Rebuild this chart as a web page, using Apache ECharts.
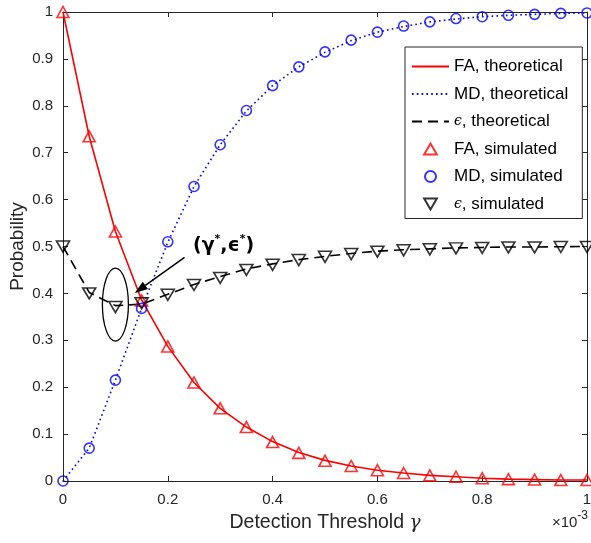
<!DOCTYPE html>
<html><head><meta charset="utf-8">
<script src="https://cdn.jsdelivr.net/npm/echarts@6/dist/echarts.min.js"></script>
<style>html,body{margin:0;padding:0;background:#fff}#c{width:591px;height:543px}</style>
</head><body><div id="c"></div>
<script>
// Detection threshold gamma (in units of 1e-3)
const thresholds = [0, 0.05, 0.1, 0.15, 0.2, 0.25, 0.3, 0.35, 0.4, 0.45, 0.5, 0.55, 0.6, 0.65, 0.7, 0.75, 0.8, 0.85, 0.9, 0.95, 1.0];
const faTheory  = [1.0, 0.735, 0.532, 0.386, 0.287, 0.210, 0.155, 0.115, 0.084, 0.061, 0.044, 0.032, 0.023, 0.017, 0.012, 0.009, 0.006, 0.004, 0.003, 0.002, 0.002];
const mdTheory  = [0.0, 0.070, 0.215, 0.368, 0.509, 0.628, 0.717, 0.789, 0.843, 0.883, 0.914, 0.939, 0.957, 0.969, 0.979, 0.985, 0.990, 0.993, 0.995, 0.997, 0.998];
const epsTheory = [0.5, 0.402, 0.374, 0.377, 0.398, 0.419, 0.436, 0.452, 0.463, 0.472, 0.479, 0.485, 0.490, 0.493, 0.495, 0.497, 0.498, 0.499, 0.499, 0.4995, 0.5];
const faSim  = [1.0, 0.735, 0.532, 0.385, 0.287, 0.210, 0.155, 0.115, 0.083, 0.060, 0.043, 0.032, 0.023, 0.017, 0.012, 0.009, 0.006, 0.004, 0.003, 0.002, 0.002];
const mdSim  = [0.0, 0.070, 0.215, 0.368, 0.510, 0.628, 0.717, 0.790, 0.843, 0.883, 0.915, 0.940, 0.957, 0.970, 0.979, 0.986, 0.990, 0.993, 0.995, 0.997, 0.998];
const epsSim = [0.5, 0.400, 0.371, 0.379, 0.397, 0.418, 0.433, 0.450, 0.461, 0.471, 0.478, 0.484, 0.489, 0.492, 0.494, 0.496, 0.497, 0.498, 0.498, 0.499, 0.499];
const seriesNames = ['FA, theoretical', 'MD, theoretical', 'ϵ, theoretical', 'FA, simulated', 'MD, simulated', 'ϵ, simulated'];
const xTickValues = [0, 0.2, 0.4, 0.6, 0.8, 1];
const yTickValues = [0, 0.1, 0.2, 0.3, 0.4, 0.5, 0.6, 0.7, 0.8, 0.9, 1];
const optimum = {x: 0.1, y: 0.374};

const FONT = "'Liberation Sans', Arial, Helvetica, sans-serif";
const SERIF = "'DejaVu Serif', 'Liberation Serif', serif";
const AX = '#262626';
const pairs = ys => thresholds.map((x, i) => [x, ys[i]]);
const upTri = 'path://M5,0L10,8.66L0,8.66Z';
const downTri = 'path://M0,0L10,0L5,8.66Z';

const chart = echarts.init(document.getElementById('c'), null, {renderer: 'canvas'});

const axisCommon = {
  min: 0, max: 1, interval: 0.1,
  nameMoveOverlap: false,
  axisLine: {show: true, onZero: false, lineStyle: {color: AX, width: 1}},
  axisTick: {show: true, inside: true, length: 5, lineStyle: {color: AX}},
  splitLine: {show: false},
};

const option = {
  animation: false,
  backgroundColor: '#fff',
  grid: {left: 63, top: 12, width: 524, height: 469, containLabel: false, outerBoundsMode: 'none'},
  xAxis: [
    Object.assign({}, axisCommon, {
      type: 'value', position: 'bottom', interval: 0.2,
      axisLabel: {color: AX, fontFamily: FONT, fontSize: 15, margin: 11,
        formatter: v => xTickValues.some(t => Math.abs(t - v) < 1e-9) ? String(+v.toFixed(1)) : ''},
      name: '{a|Detection Threshold }{g|γ}', nameLocation: 'middle', nameGap: 32,
      nameTextStyle: {rich: {
        a: {fontFamily: FONT, fontSize: 19.5, color: AX},
        g: {fontFamily: SERIF, fontStyle: 'italic', fontSize: 18.5, color: AX}
      }}
    }),
    Object.assign({}, axisCommon, {
      type: 'value', position: 'top', interval: 0.2, axisLabel: {show: false}
    })
  ],
  yAxis: [
    Object.assign({}, axisCommon, {
      type: 'value', position: 'left',
      axisLabel: {color: AX, fontFamily: FONT, fontSize: 15, margin: 10,
        formatter: v => yTickValues.some(t => Math.abs(t - v) < 1e-9) ? String(+v.toFixed(1)) : ''},
      name: 'Probability', nameLocation: 'middle', nameGap: 36, nameRotate: 90,
      nameTextStyle: {fontFamily: FONT, fontSize: 19, color: AX}
    }),
    Object.assign({}, axisCommon, {
      type: 'value', position: 'right', axisLabel: {show: false}
    })
  ],
  legend: {
    orient: 'vertical', left: 405, top: 47,
    padding: [11, 14, 6, 6],
    itemWidth: 37, itemHeight: 11, itemGap: 10.5,
    backgroundColor: '#fff', borderColor: AX, borderWidth: 1,
    symbolKeepAspect: true,
    data: seriesNames.map((n, i) => i < 3 ? {name: n, itemStyle: {opacity: 0}} : {name: n}),
    formatter: n => n.charAt(0) === 'ϵ' ? '{e|ϵ}{n|' + n.slice(1) + '}' : '{n|' + n + '}',
    textStyle: {rich: {
      n: {fontFamily: FONT, fontSize: 17, lineHeight: 14, color: '#000'},
      e: {fontFamily: SERIF, fontStyle: 'italic', fontSize: 14, lineHeight: 14, color: '#000'}
    }}
  },
  series: [
    {name: seriesNames[0], type: 'line', data: pairs(faTheory), symbol: 'none', z: 3,
     lineStyle: {color: '#ff0000', width: 1.6}, itemStyle: {color: '#ff0000'}},
    {name: seriesNames[1], type: 'line', data: pairs(mdTheory), symbol: 'none', z: 3,
     lineStyle: {color: '#0000ff', width: 1.6, type: [1.6, 3.2]}, itemStyle: {color: '#0000ff'}},
    {name: seriesNames[2], type: 'line', data: pairs(epsTheory), symbol: 'none', z: 3,
     lineStyle: {color: '#000', width: 1.6, type: [10, 6]}, itemStyle: {color: '#000'}},
    {name: seriesNames[3], type: 'scatter', data: pairs(faSim), symbol: upTri, symbolSize: [12, 11], z: 4,
     itemStyle: {color: 'rgba(0,0,0,0)', borderColor: '#ff0000', borderWidth: 1.6}},
    {name: seriesNames[4], type: 'scatter', data: pairs(mdSim), symbol: 'circle', symbolSize: 10, z: 4,
     itemStyle: {color: 'rgba(0,0,0,0)', borderColor: '#0000ff', borderWidth: 1.6}},
    {name: seriesNames[5], type: 'scatter', data: pairs(epsSim), symbol: downTri, symbolSize: [13, 11], z: 4,
     itemStyle: {color: 'rgba(0,0,0,0)', borderColor: '#000', borderWidth: 1.6}}
  ]
};
chart.setOption(option);

// annotation: ellipse around optimum, arrow and label
const c = chart.convertToPixel({gridIndex: 0}, [optimum.x, optimum.y]);
const tail = chart.convertToPixel({gridIndex: 0}, [0.232, 0.477]);
const head = chart.convertToPixel({gridIndex: 0}, [0.137, 0.401]);
const lbl = chart.convertToPixel({gridIndex: 0}, [0.248, 0.500]);
const dx = head[0] - tail[0], dy = head[1] - tail[1];
const L = Math.hypot(dx, dy), ux = dx / L, uy = dy / L;
const hl = 13, hw = 4.5;
const bx = head[0] - ux * hl, by = head[1] - uy * hl;
chart.setOption({
  graphic: [
    {type: 'ellipse', shape: {cx: c[0], cy: c[1] - 1, rx: 13, ry: 36.5}, z: 10,
     style: {fill: 'none', stroke: '#000', lineWidth: 1.3}},
    {type: 'line', shape: {x1: tail[0], y1: tail[1], x2: bx, y2: by}, z: 10,
     style: {stroke: '#000', lineWidth: 1.5}},
    {type: 'polygon', z: 10, shape: {points: [head, [bx - uy * hw, by + ux * hw], [bx + uy * hw, by - ux * hw]]},
     style: {fill: '#000'}},
    {type: 'text', x: lbl[0], y: lbl[1], z: 10,
     style: {text: '{b|(γ}{s|*}{b|,ϵ}{s|*}{b|)}', verticalAlign: 'middle', align: 'left',
       rich: {
         b: {fontFamily: "'DejaVu Sans', sans-serif", fontWeight: 'bold', fontSize: 19, lineHeight: 26, fill: '#000'},
         s: {fontFamily: "'DejaVu Sans', sans-serif", fontWeight: 'bold', fontSize: 11, lineHeight: 26, verticalAlign: 'top', fill: '#000'}
       }}},
    {type: 'text', right: 3, top: 510, z: 10,
     style: {text: '{a|×10}{s|-3}', rich: {
       a: {fontFamily: FONT, fontSize: 15, lineHeight: 20, fill: AX, verticalAlign: 'bottom'},
       s: {fontFamily: FONT, fontSize: 12, lineHeight: 20, fill: AX, verticalAlign: 'top'}
     }}}
  ]
});
</script>
</body></html>
